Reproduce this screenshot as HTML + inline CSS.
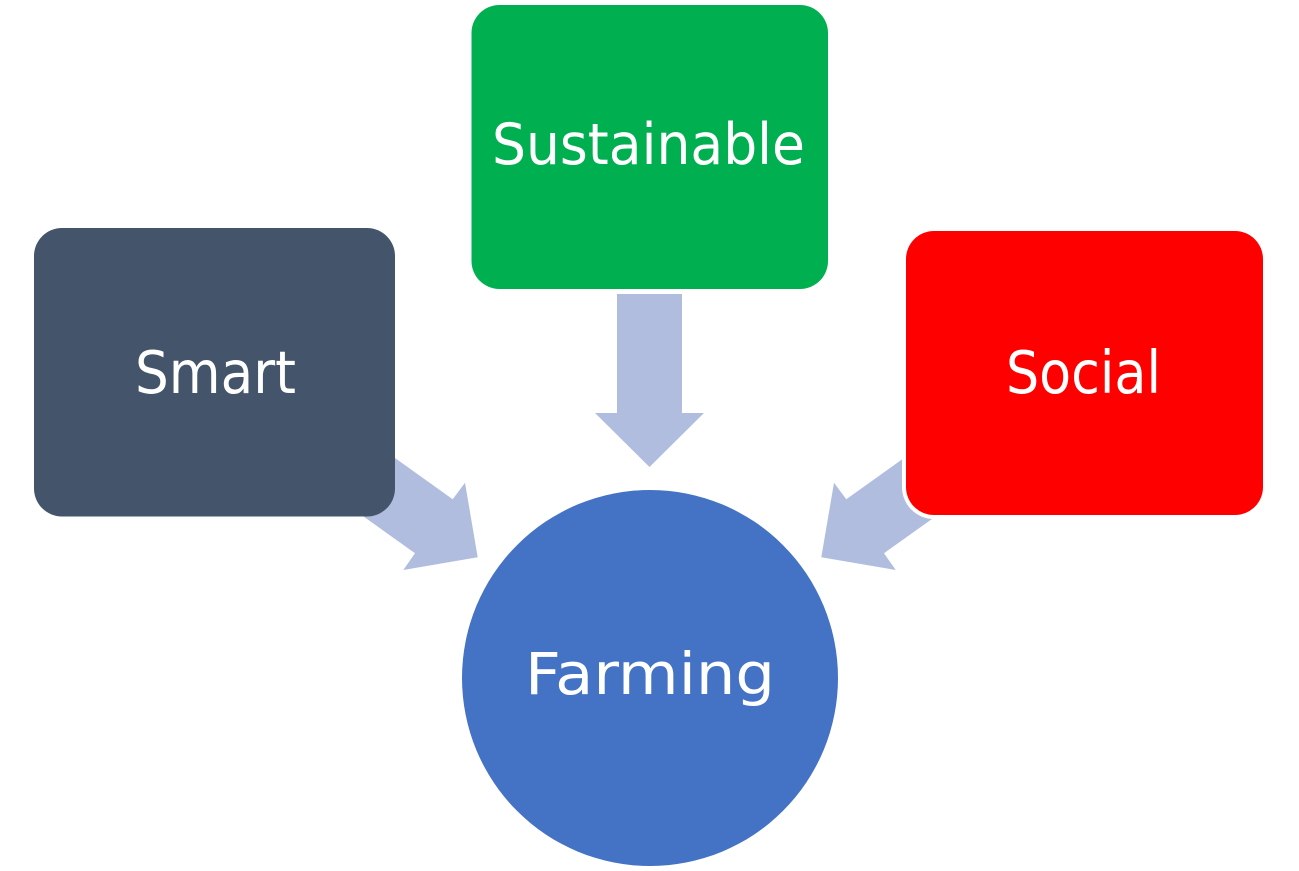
<!DOCTYPE html>
<html>
<head>
<meta charset="utf-8">
<style>
  html, body { margin: 0; padding: 0; background: #ffffff; }
  body { width: 1299px; height: 871px; overflow: hidden; }
  svg { display: block; }
  text { font-family: "DejaVu Sans", "Liberation Sans", sans-serif; fill: #ffffff; }
</style>
</head>
<body>
<svg width="1299" height="871" viewBox="0 0 1299 871" xmlns="http://www.w3.org/2000/svg">
  <rect x="0" y="0" width="1299" height="871" fill="#ffffff"/>

  <!-- arrows -->
  <polygon points="617,294 682,294 682,413 704,413 649.5,467 595,413 617,413" fill="#B0BDDF"/>
  <polygon points="331.2,412.3 452.7,499.3 465,482.7 477.7,557.3 403.3,570 415,553.2 292.8,466.1" fill="#B0BDDF"/>
  <polygon points="967.8,412.3 846.3,499.3 834,482.7 821.3,557.3 895.7,570 884,553.2 1006.2,466.1" fill="#B0BDDF"/>

  <!-- boxes -->
  <rect x="471.5" y="5" width="356.5" height="284" rx="28" ry="28" fill="#00B050"/>
  <rect x="34" y="228" width="361" height="288.5" rx="28" ry="28" fill="#44546A"/>
  <rect x="902" y="227" width="365" height="292" rx="32" ry="32" fill="#ffffff"/>
  <rect x="906" y="231" width="357" height="284" rx="28" ry="28" fill="#FF0000"/>

  <!-- circle -->
  <circle cx="650" cy="678" r="188" fill="#4472C4"/>

  <!-- labels -->
  <text x="648.5" y="164" font-size="57" text-anchor="middle" textLength="313" lengthAdjust="spacingAndGlyphs">Sustainable</text>
  <text x="215.5" y="393" font-size="59" text-anchor="middle" textLength="161" lengthAdjust="spacingAndGlyphs">Smart</text>
  <text x="1083.5" y="393" font-size="59" text-anchor="middle" textLength="155" lengthAdjust="spacingAndGlyphs">Social</text>
  <text x="650" y="694" font-size="58" text-anchor="middle" textLength="250" lengthAdjust="spacingAndGlyphs">Farming</text>
</svg>
</body>
</html>
